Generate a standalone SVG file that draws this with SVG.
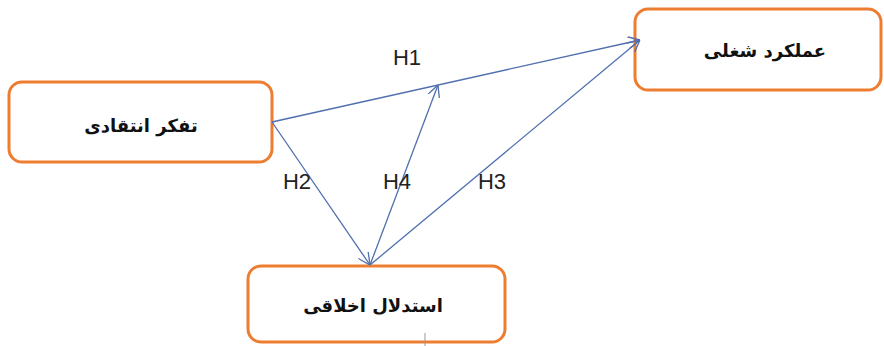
<svg xmlns="http://www.w3.org/2000/svg" width="884" height="346" viewBox="0 0 884 346">
<style>
.box{fill:#fff;stroke:#ED7D31;stroke-width:3}
.fa{font-family:"DejaVu Sans",sans-serif;font-weight:bold;font-size:18px;fill:#111;text-anchor:middle;dominant-baseline:central}
.lbl{font-family:"Liberation Sans",sans-serif;font-size:22px;fill:#222;text-anchor:middle;dominant-baseline:central}
.c{stroke:#4F6FAE;stroke-width:1.3;fill:none}
</style>
<defs>
<marker id="ah" viewBox="0 0 12 12" refX="12" refY="6" markerWidth="12" markerHeight="12" markerUnits="userSpaceOnUse" orient="auto">
<path d="M0,0 L12,6 L0,12" fill="none" stroke="#4F6FAE" stroke-width="1.3"/>
</marker>
</defs>
<rect width="884" height="346" fill="#fff"/>
<g id="node-critical-thinking">
<rect class="box" x="9" y="82" width="263" height="80" rx="13"/>
<text class="fa" x="141" y="125">تفکر انتقادی</text>
</g>
<g id="node-job-performance">
<rect class="box" x="635" y="9" width="246" height="81" rx="13"/>
<text class="fa" x="765" y="50">عملکرد شغلی</text>
</g>
<g id="node-moral-reasoning">
<rect class="box" x="248" y="266" width="257" height="76" rx="13"/>
<text class="fa" x="373" y="305">استدلال اخلاقی</text>
</g>
<g id="connectors">
<line class="c" x1="272" y1="122" x2="640" y2="40" marker-end="url(#ah)"/>
<line class="c" x1="272" y1="122" x2="370" y2="265" marker-end="url(#ah)"/>
<line class="c" x1="370" y1="265" x2="438" y2="85" marker-end="url(#ah)"/>
<line class="c" x1="370" y1="265" x2="640" y2="40" marker-end="url(#ah)"/>
<text class="lbl" x="407" y="57">H1</text>
<text class="lbl" x="297" y="181">H2</text>
<text class="lbl" x="397" y="181">H4</text>
<text class="lbl" x="492" y="181">H3</text>
</g>
<line x1="425" y1="333" x2="425" y2="346" stroke="#999" stroke-width="1"/>
</svg>
